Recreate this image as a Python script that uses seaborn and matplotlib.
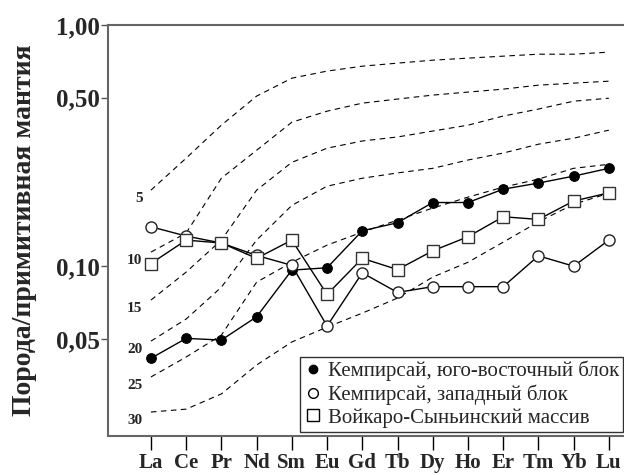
# REE spectra normalised to primitive mantle, with melting-degree curves

import numpy as np
import matplotlib.pyplot as plt
import seaborn as sns
from matplotlib.lines import Line2D
from matplotlib.ticker import NullLocator

# Data

elements = ['La', 'Ce', 'Pr', 'Nd', 'Sm', 'Eu', 'Gd', 'Tb', 'Dy', 'Ho', 'Er', 'Tm', 'Yb', 'Lu']

kemp_se = [0.0416, 0.0503, 0.0495, 0.0618, 0.0965, 0.0987, 0.1405, 0.1517,
           0.184, 0.184, 0.209, 0.2215, 0.2367, 0.255]
kemp_w = [0.146, 0.1336, 0.125, 0.111, 0.101, 0.0566, 0.094, 0.078,
          0.0824, 0.0824, 0.0824, 0.1106, 0.1002, 0.1285]
voykar = [0.1028, 0.1285, 0.125, 0.108, 0.1285, 0.0765, 0.108, 0.097,
          0.116, 0.1327, 0.1606, 0.1566, 0.1866, 0.2018]

series_labels = ['Кемпирсай, юго-восточный блок',
                 'Кемпирсай, западный блок',
                 'Войкаро-Сыньинский массив']

# melting degree curves (%)
melt_labels = ['5', '10', '15', '20', '25', '30']
melt_5 = [0.207, 0.281, 0.385, 0.508, 0.603, 0.645, 0.676, 0.696, 0.716, 0.730, 0.744, 0.758, 0.758, 0.773]
melt_10 = [0.1146, 0.1375, 0.232, 0.303, 0.396, 0.440, 0.475, 0.494, 0.513, 0.528, 0.543, 0.564, 0.575, 0.586]
melt_15 = [0.0725, 0.0947, 0.1285, 0.207, 0.270, 0.309, 0.331, 0.344, 0.364, 0.385, 0.420, 0.449, 0.484, 0.498]
melt_20 = [0.049, 0.0605, 0.082, 0.1285, 0.179, 0.215, 0.232, 0.244, 0.255, 0.276, 0.295, 0.321, 0.340, 0.367]
melt_25 = [0.0348, 0.0421, 0.0519, 0.086, 0.104, 0.1225, 0.1387, 0.1556, 0.1745, 0.1937, 0.213, 0.230, 0.255, 0.265]
melt_30 = [0.0249, 0.0256, 0.0296, 0.039, 0.0486, 0.056, 0.064, 0.0739, 0.0903, 0.104, 0.126, 0.153, 0.181, 0.201]
melt_curves = [melt_5, melt_10, melt_15, melt_20, melt_25, melt_30]

ytick_vals = [0.05, 0.10, 0.50, 1.00]
ytick_labels = ['0,05', '0,10', '0,50', '1,00']

# Plot

sns.set_theme(style="white")
plt.rcParams['font.family'] = ['Liberation Serif', 'DejaVu Serif']

fig, ax = plt.subplots(figsize=(6.24, 4.75), dpi=100)
fig.subplots_adjust(left=0.173, right=1.0, bottom=0.082, top=0.947)

x = np.arange(len(elements))

for lab, vals in zip(melt_labels, melt_curves):
    sns.lineplot(x=x, y=vals, ax=ax, color='black', lw=0.8,
                 linestyle=(0, (5, 4)), zorder=1)
    ax.annotate(lab, xy=(0, vals[0]), xytext=(-6, -6), textcoords='offset points',
                ha='right', va='center', fontsize=11, fontweight='bold')

sns.lineplot(x=x, y=kemp_se, ax=ax, color='black', lw=1.0, marker='o',
             markersize=7, markerfacecolor='black', markeredgecolor='black', zorder=3)
sns.lineplot(x=x, y=kemp_w, ax=ax, color='black', lw=1.0, marker='o',
             markersize=8, markerfacecolor='white', markeredgecolor='#222222',
             markeredgewidth=1, zorder=4)
sns.lineplot(x=x, y=voykar, ax=ax, color='black', lw=1.0, marker='s',
             markersize=8.5, markerfacecolor='white', markeredgecolor='#333333',
             markeredgewidth=1, zorder=5)

ax.set_yscale('log')
ax.set_ylim(0.0198, 1.0)
ax.set_xlim(-1.22, 13.43)

ax.set_yticks(ytick_vals)
ax.set_yticklabels(ytick_labels, fontweight='bold')
ax.yaxis.set_minor_locator(NullLocator())
ax.set_xticks(x)
ax.set_xticklabels(elements, fontweight='bold')

ax.tick_params(axis='x', direction='out', length=10, width=1, color='black',
               labelsize=15, pad=2, bottom=True)
ax.tick_params(axis='y', direction='out', length=5, width=1, color='#555555',
               labelsize=18, pad=1, left=True)

ax.set_ylabel('Порода/примитивная мантия', fontsize=20, fontweight='bold')
ax.yaxis.set_label_coords(-0.138, 0.5)
ax.set_xlabel('')

ax.spines['right'].set_visible(False)
for side in ['top', 'left', 'bottom']:
    ax.spines[side].set_color('#666666')
    ax.spines[side].set_linewidth(1.5)

handles = [
    Line2D([], [], ls='none', marker='o', color='black', markersize=6),
    Line2D([], [], ls='none', marker='o', markerfacecolor='white',
           markeredgecolor='black', markersize=7),
    Line2D([], [], ls='none', marker='s', markerfacecolor='white',
           markeredgecolor='black', markersize=8),
]
leg = ax.legend(handles, series_labels, loc='lower right', bbox_to_anchor=(0.998, 0.01),
                frameon=True, fancybox=False, edgecolor='black', fontsize=15,
                handlelength=0.8, handletextpad=0.3, borderpad=0.2,
                labelspacing=0.15, borderaxespad=0)
leg.get_frame().set_linewidth(1.0)

plt.savefig('out.png', dpi=100)
